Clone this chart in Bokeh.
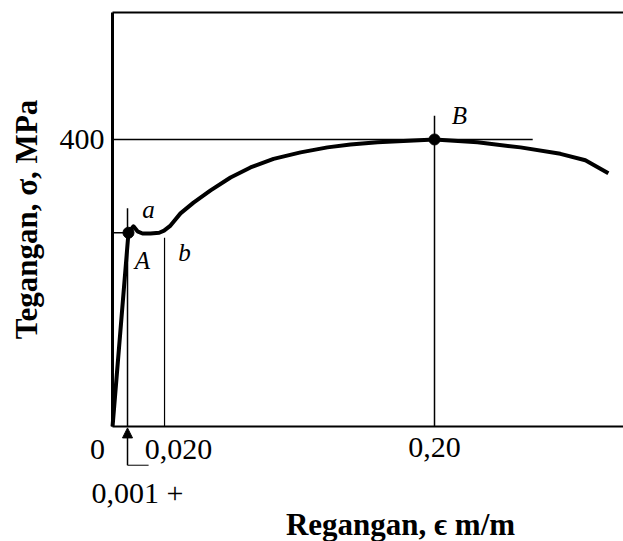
from bokeh.plotting import figure
from bokeh.models import Range1d, FixedTicker, LinearAxis, Label, Arrow, NormalHead
from bokeh.embed import file_html
from bokeh.resources import INLINE

# ---- data (schematic strain position, stress in MPa) ----
strain = [0.0, 0.0099, 0.0130, 0.0155, 0.0186, 0.0236, 0.0290, 0.0320, 0.0360,
          0.0422, 0.0503, 0.0609, 0.0733, 0.0857, 0.1000, 0.1168, 0.1335, 0.1478,
          0.1646, 0.1807, 0.2000, 0.2267, 0.2534, 0.2782, 0.2937, 0.3080]
stress = [0, 270, 279, 272, 269, 269, 270, 273, 280, 297, 312, 329, 347, 361,
          373, 382, 389, 393, 396, 398, 400, 396, 389, 380, 371, 353]

point_strain = [0.0099, 0.2000]     # A, B
point_stress = [270, 400]

yield_stress = 270
ultimate_stress = 400
strain_001 = 0.0093      # position of the 0,001 marker
strain_020 = 0.0323      # position of the 0,020 marker (b)
strain_B = 0.2000
x_max = 0.3174
y_max = 577

x_ticks = [0.2]
x_tick_labels = ["0,20"]
y_ticks = [400]
y_tick_labels = ["400"]

SERIF = "Liberation Serif"

p = figure(width=623, height=541, output_backend="svg", toolbar_location=None,
           x_range=Range1d(-0.0696, x_max), y_range=Range1d(-160.3, 593.7),
           x_axis_location=None, y_axis_location=None, min_border=0)
p.outline_line_color = None
p.background_fill_color = "white"
p.border_fill_color = "white"
p.xgrid.visible = False
p.ygrid.visible = False

common = dict(major_tick_in=0, major_tick_out=0, minor_tick_in=0, minor_tick_out=0,
              axis_line_color="black", major_label_text_font=SERIF,
              major_label_text_font_size="30px", major_label_text_color="black")

yax = LinearAxis(fixed_location=0, bounds=(0, y_max),
                 ticker=FixedTicker(ticks=y_ticks),
                 major_label_overrides={t: l for t, l in zip(y_ticks, y_tick_labels)},
                 axis_line_width=3, major_label_standoff=8,
                 axis_label="Tegangan, σ, MPa", axis_label_text_font=SERIF,
                 axis_label_text_font_style="bold", axis_label_text_font_size="31px",
                 axis_label_text_color="black", axis_label_standoff=13, **common)
p.add_layout(yax, "left")

xax = LinearAxis(fixed_location=0, bounds=(0, x_max),
                 ticker=FixedTicker(ticks=x_ticks),
                 major_label_overrides={t: l for t, l in zip(x_ticks, x_tick_labels)},
                 axis_line_width=2, major_label_standoff=12, **common)
p.add_layout(xax, "below")

topax = LinearAxis(fixed_location=y_max, bounds=(0, x_max),
                   ticker=FixedTicker(ticks=[]), axis_line_width=2,
                   major_label_standoff=0, major_label_text_font_size="0px",
                   major_tick_in=0, major_tick_out=0, minor_tick_in=0, minor_tick_out=0)
p.add_layout(topax, "above")

# reference lines
p.line([0, point_strain[0]], [yield_stress, yield_stress], line_color="black", line_width=1.5)
p.line([0, 0.261], [ultimate_stress, ultimate_stress], line_color="black", line_width=1.5)
p.line([strain_001, strain_001], [0, 304], line_color="black", line_width=1.5)
p.line([strain_020, strain_020], [0, 263], line_color="black", line_width=1.2)
p.line([strain_B, strain_B], [0, 433], line_color="black", line_width=1.5)

# curve
p.line(strain, stress, line_color="black", line_width=4, line_join="round")
p.scatter(point_strain, point_stress, size=11, color="black")

# point letters
letter_style = dict(text_font=SERIF, text_font_style="italic", text_font_size="25px",
                    text_color="black", text_align="center", text_baseline="middle")
for txt, x, y in [("a", 0.0224, 302), ("A", 0.0186, 231), ("b", 0.0447, 243),
                  ("B", 0.2155, 433)]:
    p.add_layout(Label(x=x, y=y, text=txt, **letter_style))

# extra tick texts
tick_style = dict(text_font=SERIF, text_font_size="30px", text_color="black",
                  text_align="center", text_baseline="middle")
p.add_layout(Label(x=-0.0093, y=-32, text="0", **tick_style))
p.add_layout(Label(x=0.0410, y=-32, text="0,020", **tick_style))
p.add_layout(Label(x=0.0155, y=-92, text="0,001 +", **tick_style))

# arrow at 0,001
p.add_layout(Arrow(end=NormalHead(size=10, fill_color="black", line_color="black"),
                   x_start=strain_001, y_start=-54, x_end=strain_001, y_end=-2,
                   line_color="black", line_width=1.5))
p.add_layout(Arrow(end=None, x_start=strain_001, y_start=-54, x_end=0.0224, y_end=-54,
                   line_color="black", line_width=1))

# x-axis title
p.add_layout(Label(x=0.1789, y=-137, text="Regangan, ϵ m/m", text_font=SERIF,
                   text_font_style="bold", text_font_size="31px", text_color="black",
                   text_align="center", text_baseline="middle"))

open("out.html", "w").write(file_html(p, INLINE))
